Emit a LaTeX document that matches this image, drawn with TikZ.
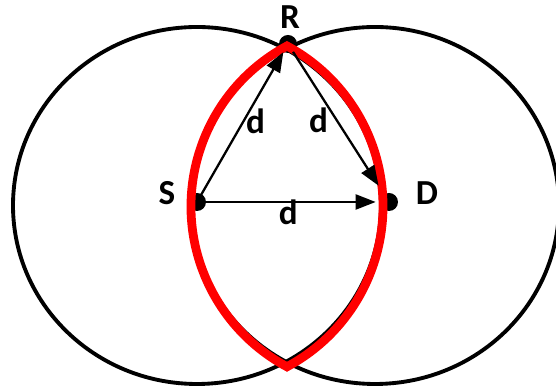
\documentclass[tikz,border=0pt]{standalone}
\usepackage{fontspec}
\setmainfont{Carlito}
\usepackage{tikz}
\usetikzlibrary{arrows.meta,positioning}
\definecolor{lensred}{RGB}{255,0,0}

\begin{document}
\begin{tikzpicture}[x=0.02cm, y=0.02cm, >={Triangle[length=0.4cm,width=0.3cm]},
  dot/.style={circle, fill=black, inner sep=0pt, minimum size=0.36cm},
  lbl/.style={font=\fontsize{20}{24}\selectfont\bfseries, inner sep=0pt},
  rangering/.style={line width=2.2pt},
  arr/.style={->, line width=1.3pt}]
  \useasboundingbox (0,0) rectangle (556,391);
  \draw[rangering] (197,185.5) ellipse[x radius=184, y radius=178.5];
  \draw[rangering] (375,185.5) ellipse[x radius=184, y radius=178.5];
  \node[dot] (S) at (197,189) {};
  \node[dot] (D) at (389,189) {};
  \node[dot] (R) at (288,347) {};
  \node[lbl] (Slbl) at (167,198) {S};
  \node[lbl] (Dlbl) at (427,198) {D};
  \node[lbl] (Rlbl) at (290,374) {R};
  % overlap region
  \draw[lensred, line width=5pt] (287,345) arc[start angle=118.2, end angle=241.8, radius=182]
    arc[start angle=-61.8, end angle=61.8, radius=182] -- cycle;
  \draw[arr] (S.center) -- node[lbl, xshift=0.31cm, yshift=0.12cm] {d} (R);
  \draw[arr, shorten >=0.2cm] (R) -- node[lbl, xshift=-0.4cm, yshift=0.05cm] {d} (D);
  \draw[arr, shorten >=0.08cm] (S.center) -- node[lbl, yshift=-0.2cm] {d} (D);
\end{tikzpicture}
\end{document}
